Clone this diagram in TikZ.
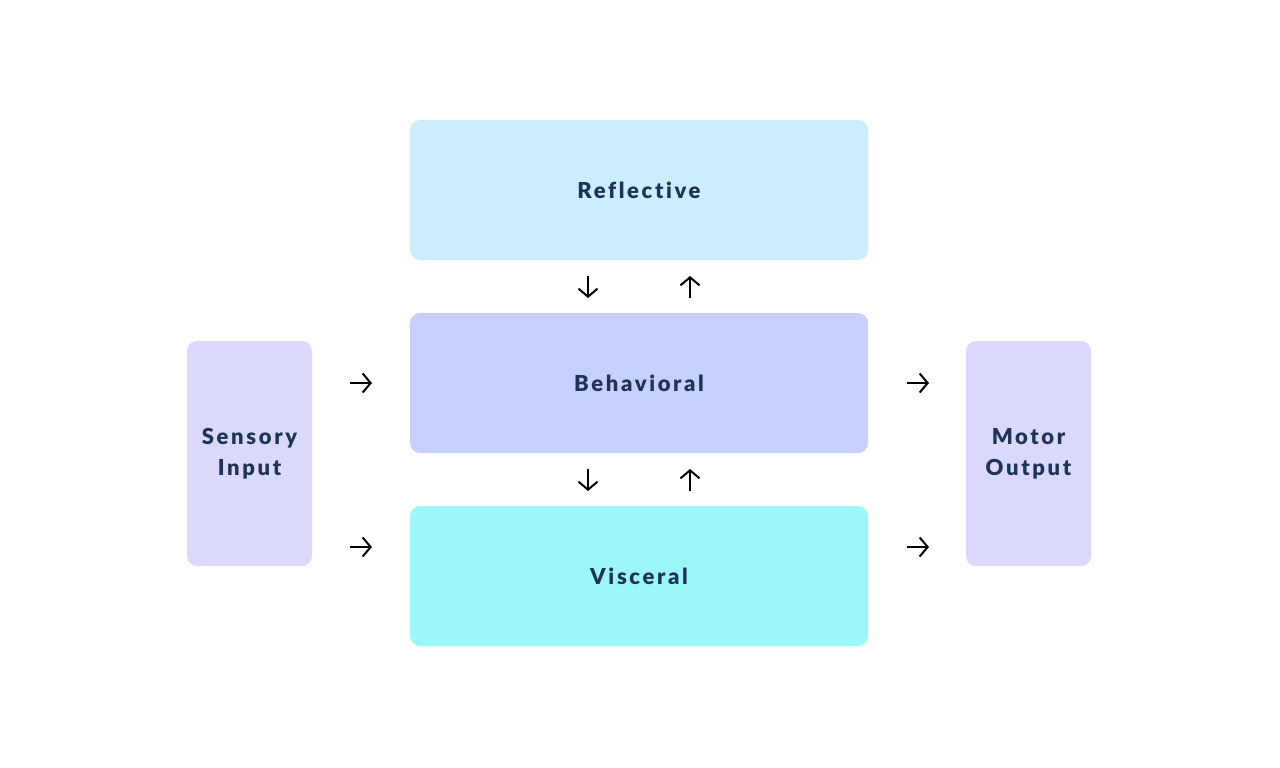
\documentclass[tikz,border=0pt]{standalone}
\usepackage{fontspec}
\setmainfont{Lato}[LetterSpace=12,Ligatures=NoCommon,BoldFont={Lato Black}]
\usetikzlibrary{arrows.meta}
\definecolor{txt}{HTML}{1F3358}
\definecolor{crefl}{HTML}{CBEDFC}
\definecolor{cbeh}{HTML}{C5D0FC}
\definecolor{cvisc}{HTML}{9CF8F8}
\definecolor{cside}{HTML}{DAD9FC}
\tikzset{
  layer/.style={rounded corners=10pt, minimum width=458pt, minimum height=140pt, inner sep=0pt,
    font=\fontsize{22}{26}\selectfont\bfseries, text=txt},
  side/.style={rounded corners=10pt, minimum width=125pt, minimum height=225pt, inner sep=0pt,
    font=\fontsize{22}{31}\selectfont\bfseries, text=txt, align=center},
  arr/.style={line width=2pt, -{Straight Barb[length=8pt,width=19pt,line width=2pt]}}
}
\begin{document}
\begin{tikzpicture}[x=1pt,y=-1pt]
\useasboundingbox[fill=white] (0,0) rectangle (1280,768);
\node[layer, fill=crefl] (refl) at (639,190) {Reflective};
\node[layer, fill=cbeh] (beh) at (639,383) {Behavioral};
\node[layer, fill=cvisc] (visc) at (639,576) {Visceral};
\node[side, fill=cside] (sens) at (249.5,453.5) {Sensory\\Input};
\node[side, fill=cside] (mot) at (1028.5,453.5) {Motor\\Output};
% arrow coordinates
\coordinate (d1s) at (588,276); \coordinate (d1e) at (588,298);
\coordinate (u1s) at (690,298); \coordinate (u1e) at (690,276);
\coordinate (d2s) at (588,469); \coordinate (d2e) at (588,491);
\coordinate (u2s) at (690,491); \coordinate (u2e) at (690,469);
\coordinate (l1s) at (350,383); \coordinate (l1e) at (372,383);
\coordinate (l2s) at (350,547); \coordinate (l2e) at (372,547);
\coordinate (r1s) at (907,383); \coordinate (r1e) at (929,383);
\coordinate (r2s) at (907,547); \coordinate (r2e) at (929,547);
\foreach \a in {d1,u1,d2,u2,l1,l2,r1,r2}{\draw[arr] (\a s) -- (\a e);}
\end{tikzpicture}
\end{document}
